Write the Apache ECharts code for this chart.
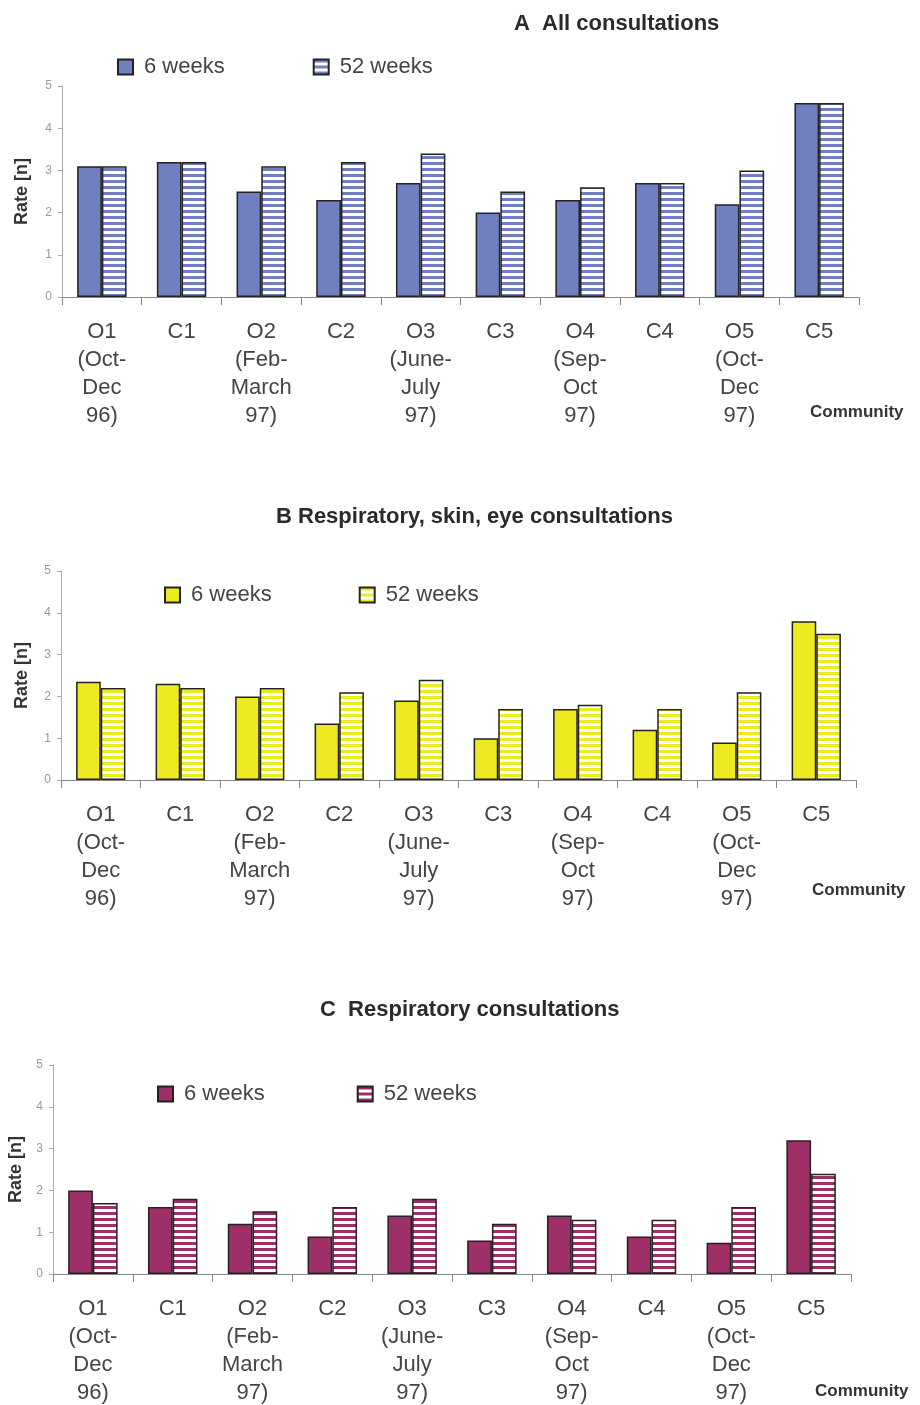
<!DOCTYPE html>
<html>
<head>
<meta charset="utf-8">
<script src="https://cdn.jsdelivr.net/npm/echarts@6/dist/echarts.min.js"></script>
<style>
  html, body { margin: 0; padding: 0; background: #fff; }
  #chart { width: 920px; height: 1405px; }
</style>
</head>
<body>
<div id="chart"></div>
<script>
// ---- data ----
var categories = ['O1\n(Oct-\nDec\n96)', 'C1', 'O2\n(Feb-\nMarch\n97)', 'C2', 'O3\n(June-\nJuly\n97)', 'C3', 'O4\n(Sep-\nOct\n97)', 'C4', 'O5\n(Oct-\nDec\n97)', 'C5'];
var allSix = [3.1, 3.2, 2.5, 2.3, 2.7, 2.0, 2.3, 2.7, 2.2, 4.6];
var all52 = [3.1, 3.2, 3.1, 3.2, 3.4, 2.5, 2.6, 2.7, 3.0, 4.6];
var rseSix = [2.35, 2.3, 2.0, 1.35, 1.9, 1.0, 1.7, 1.2, 0.9, 3.8];
var rse52 = [2.2, 2.2, 2.2, 2.1, 2.4, 1.7, 1.8, 1.7, 2.1, 3.5];
var respSix = [2.0, 1.6, 1.2, 0.9, 1.4, 0.8, 1.4, 0.9, 0.75, 3.2];
var resp52 = [1.7, 1.8, 1.5, 1.6, 1.8, 1.2, 1.3, 1.3, 1.6, 2.4];
var panelTitles = ['A  All consultations', 'B Respiratory, skin, eye consultations', 'C  Respiratory consultations'];
var seriesLabels = ['6 weeks', '52 weeks'];
var axisName = 'Rate [n]';
var xName = 'Community';

// ---- styling ----
var FONT = 'Liberation Sans, Arial, sans-serif';
var colors = ['#6f7fc0', '#eeea22', '#9e2f68'];

function stripe(color) {
  var c = document.createElement('canvas');
  c.width = 8; c.height = 6;
  var ctx = c.getContext('2d');
  ctx.fillStyle = '#ffffff';
  ctx.fillRect(0, 0, 8, 6);
  ctx.fillStyle = color;
  ctx.fillRect(0, 0, 8, 3);
  return { image: c, repeat: 'repeat' };
}

var grids = [
  { left: 62, top: 86, width: 797, height: 211, containLabel: false, outerBoundsMode: 'none' },
  { left: 61, top: 571, width: 795, height: 209, containLabel: false, outerBoundsMode: 'none' },
  { left: 53, top: 1065, width: 798, height: 209, containLabel: false, outerBoundsMode: 'none' }
];

var panels = [
  { six: allSix, f52: all52 },
  { six: rseSix, f52: rse52 },
  { six: respSix, f52: resp52 }
];

var legendPos = [
  { left: 112, top: 51, gap: 88 },
  { left: 159, top: 579, gap: 87 },
  { left: 152, top: 1078, gap: 92 }
];
var titlePos = [
  { left: 509, top: 8 },
  { left: 271, top: 501 },
  { left: 315, top: 994 }
];
var communityPos = [
  { x: 810, y: 414 },
  { x: 812, y: 892 },
  { x: 815, y: 1393 }
];
var nameGaps = [31, 30, 27];

var nameMap = {};
var option = {
  animation: false,
  backgroundColor: '#ffffff',
  title: [], legend: [], grid: grids, xAxis: [], yAxis: [], series: [], graphic: []
};

panels.forEach(function (p, i) {
  var n6 = 'p' + i + '_6', n52 = 'p' + i + '_52';
  nameMap[n6] = seriesLabels[0];
  nameMap[n52] = seriesLabels[1];
  option.title.push({
    text: panelTitles[i], left: titlePos[i].left, top: titlePos[i].top,
    textStyle: { fontFamily: FONT, fontSize: 22, fontWeight: 'bold', color: '#2a2a2a' }
  });
  option.legend.push({
    data: [n6, n52], left: legendPos[i].left, top: legendPos[i].top,
    itemWidth: 15, itemHeight: 15, itemGap: legendPos[i].gap, icon: 'rect',
    formatter: function (name) { return nameMap[name]; },
    textStyle: { fontFamily: FONT, fontSize: 22, color: '#444', padding: [0, 0, 0, 6] },
    selectedMode: false
  });
  option.xAxis.push({
    type: 'category', gridIndex: i, data: categories,
    axisLine: { lineStyle: { color: '#888', width: 1 } },
    axisTick: { show: true, length: 8, lineStyle: { color: '#888' } },
    axisLabel: { interval: 0, fontFamily: FONT, fontSize: 22, lineHeight: 28, color: '#444', margin: 21 }
  });
  option.yAxis.push({
    type: 'value', gridIndex: i, min: 0, max: 5, interval: 1,
    name: axisName, nameLocation: 'middle', nameRotate: 90, nameGap: nameGaps[i],
    nameTextStyle: { fontFamily: FONT, fontSize: 18, fontWeight: 'bold', color: '#333' },
    axisLine: { show: true, lineStyle: { color: '#aaa' } },
    axisTick: { show: true, length: 4, lineStyle: { color: '#aaa' } },
    splitLine: { show: false },
    axisLabel: { fontFamily: FONT, fontSize: 12, color: '#999', margin: 10 }
  });
  option.series.push({
    name: n6, type: 'bar', xAxisIndex: i, yAxisIndex: i, data: p.six,
    barGap: '0%', barCategoryGap: '38%',
    itemStyle: { color: colors[i], borderColor: '#222', borderWidth: 1.5 }
  });
  option.series.push({
    name: n52, type: 'bar', xAxisIndex: i, yAxisIndex: i, data: p.f52,
    barGap: '0%', barCategoryGap: '38%',
    itemStyle: { color: stripe(colors[i]), borderColor: '#222', borderWidth: 1.5 }
  });
  option.graphic.push({
    type: 'text', left: communityPos[i].x, top: communityPos[i].y - 10,
    style: { text: xName, font: 'bold 17px ' + FONT, fill: '#333' }
  });
});

var chart = echarts.init(document.getElementById('chart'), null, { renderer: 'canvas' });
chart.setOption(option);
</script>
</body>
</html>
